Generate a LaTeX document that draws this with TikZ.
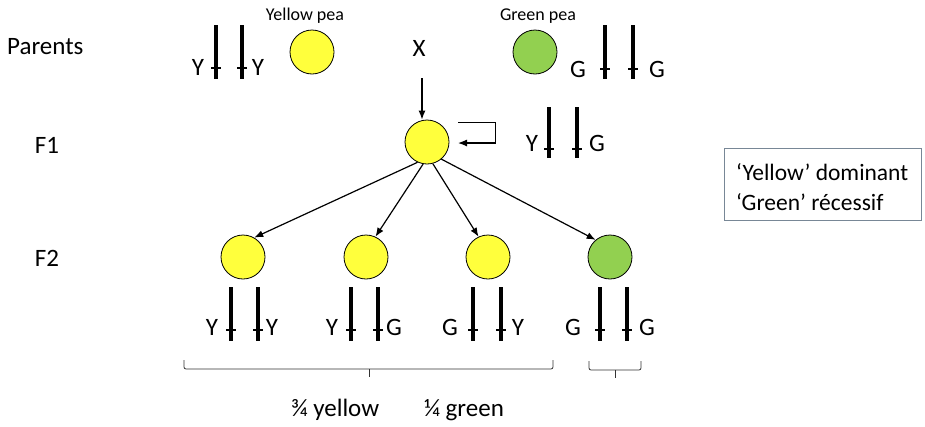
\documentclass[tikz,border=0pt]{standalone}
\usepackage{fontspec}
\setmainfont{Carlito}
\usetikzlibrary{arrows.meta}
\definecolor{peayellow}{RGB}{255,255,60}
\definecolor{peagreen}{RGB}{146,208,80}
\definecolor{boxline}{RGB}{120,135,150}
\tikzset{
  x=1pt, y=-1pt,
  pea/.style={circle, draw=black, line width=0.8pt, minimum size=44pt, inner sep=0pt},
  ypea/.style={pea, fill=peayellow},
  gpea/.style={pea, fill=peagreen},
  lbl/.style={font=\fontsize{25}{29}\selectfont, inner sep=0pt},
  leg/.style={font=\fontsize{23.5}{27}\selectfont, inner sep=0pt},
  small/.style={font=\fontsize{18}{20}\selectfont, inner sep=0pt},
  bar/.style={line width=3.2pt},
  tickline/.style={line width=1.2pt},
  arr/.style={line width=1.2pt, -{Latex[length=9pt,width=7pt]}},
  brace/.style={line width=0.8pt, draw=black!80, rounded corners=2pt},
}
\newcommand\chromo[4]{\draw[bar] (#1,#2) -- (#1,#3); \draw[tickline] ({#1-5},#4) -- ({#1+5},#4);}
\begin{document}
\begin{tikzpicture}
\useasboundingbox (0,0) rectangle (925,426);
% row labels
\node[lbl, anchor=west] (parents) at (7,47) {Parents};
\node[lbl] (f1) at (47,145) {F1};
\node[lbl] (f2) at (47,258) {F2};
% parents
\node[lbl] (py1) at (198,67) {Y};
\chromo{216}{25}{79}{68}
\chromo{242}{25}{79}{68}
\node[lbl] (py2) at (258,67) {Y};
\node[ypea] (yp) at (312,52) {};
\node[small] (yplbl) at (305,16) {Yellow pea};
\node[lbl] (cross) at (419,48) {X};
\node[gpea] (gp) at (535,52) {};
\node[small] (gplbl) at (538,16) {Green pea};
\node[lbl] (pg1) at (578,69) {G};
\chromo{605}{25}{79}{69}
\chromo{633}{25}{79}{69}
\node[lbl] (pg2) at (657,69) {G};
% F1
\coordinate (crossdown) at (422,78);
\node[ypea] (f1p) at (427,142) {};
\draw[arr] (crossdown) -- (f1p.north -| crossdown);
\coordinate (selfa) at (458,122);
\coordinate (selfb) at (495,122);
\coordinate (selfc) at (495,143);
\coordinate (selfd) at (458,143);
\draw[line width=0.7pt] (selfa) -- (selfb) -- (selfc) -- ([xshift=6pt]selfd);
\draw[arr] (selfc) -- (selfd);
\node[lbl] (f1y) at (532,143) {Y};
\chromo{549}{107}{158}{149}
\chromo{577}{107}{158}{149}
\node[lbl] (f1g) at (597,143) {G};
% F2
\node[ypea] (c1) at (243,257) {};
\node[ypea] (c2) at (366,257) {};
\node[ypea] (c3) at (488,257) {};
\node[gpea] (c4) at (610,257) {};
\draw[arr] (f1p.-115) -- (c1.60);
\draw[arr] (f1p.-100) -- (c2.65);
\draw[arr] (f1p.-75) -- (c3.115);
\draw[arr] (f1p.-50) -- (c4.130);
% F2 genotypes
\node[lbl] (g1a) at (212,327) {Y};
\chromo{231}{287}{341}{330}
\chromo{258}{287}{341}{330}
\node[lbl] (g1b) at (272,327) {Y};
\node[lbl] (g2a) at (332,327) {Y};
\chromo{351}{287}{341}{330}
\chromo{378}{287}{341}{330}
\node[lbl] (g2b) at (394,327) {G};
\node[lbl] (g3a) at (450,327) {G};
\chromo{473}{287}{341}{330}
\chromo{501}{287}{341}{330}
\node[lbl] (g3b) at (518,327) {Y};
\node[lbl] (g4a) at (573,327) {G};
\chromo{600}{287}{341}{330}
\chromo{627}{287}{341}{330}
\node[lbl] (g4b) at (647,327) {G};
% braces
\draw[brace] (184,360) -- (184,369) -- (553,369) -- (553,360);
\draw[line width=0.8pt, draw=black!80] (369,369) -- (369,377);
\draw[brace] (589,361) -- (589,370) -- (641,370) -- (641,361);
\draw[line width=0.8pt, draw=black!80] (615,370) -- (615,378);
\node[lbl] (ylw) at (335,410) {¾ yellow};
\node[lbl] (grn) at (464,410) {¼ green};
% legend box
\node[draw=boxline, line width=0.8pt, minimum width=197pt, minimum height=72pt, anchor=north west, inner sep=0pt] (legend) at (724,148) {};
\node[leg, anchor=west, align=left] (legtext) at (736,187) {‘Yellow’ dominant\\[3pt]‘Green’ récessif};
\end{tikzpicture}
\end{document}
